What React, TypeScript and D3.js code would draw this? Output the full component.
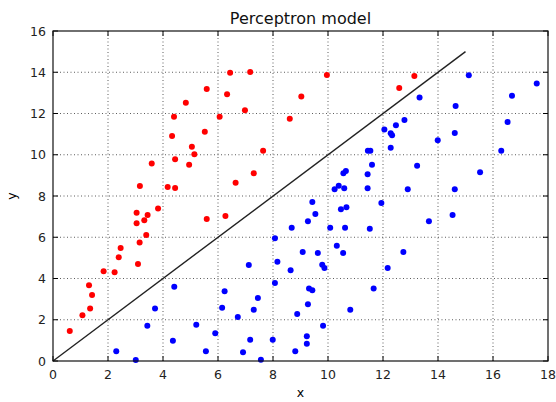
import React, { useRef, useEffect } from 'react';
import * as d3 from 'd3';

// class +1 (red) and class -1 (blue) samples, [x, y]
const redPoints: [number, number][] = [
  [6.44, 13.98], [5.59, 13.19], [6.33, 12.93], [4.83, 12.52], [4.40, 11.84],
  [6.06, 11.84], [5.52, 11.12], [4.33, 10.91], [5.05, 10.39], [5.14, 10.02],
  [3.59, 9.57], [4.44, 9.78], [4.95, 9.52], [3.16, 8.48], [4.17, 8.44],
  [4.44, 8.39], [6.64, 8.64], [7.17, 14.01], [9.96, 13.87], [13.14, 13.82],
  [9.03, 12.83], [12.59, 13.24], [6.98, 12.16], [8.61, 11.75], [7.64, 10.20],
  [7.30, 9.10], [3.82, 7.40], [3.04, 7.19], [3.44, 7.08], [3.32, 6.82],
  [3.04, 6.68], [5.59, 6.88], [6.27, 7.03], [3.39, 6.11], [3.15, 5.74],
  [2.46, 5.48], [2.39, 5.03], [1.84, 4.35], [2.24, 4.30], [3.09, 4.70],
  [1.31, 3.67], [1.42, 3.20], [1.35, 2.54], [1.07, 2.22], [0.61, 1.45],
];

const bluePoints: [number, number][] = [
  [13.33, 12.78], [12.78, 11.68], [12.47, 11.43], [12.05, 11.23], [12.28, 11.04],
  [12.33, 10.94], [12.28, 10.34], [11.45, 10.20], [11.54, 10.20], [11.60, 9.52],
  [13.24, 9.47], [10.65, 9.21], [10.56, 9.10], [11.44, 9.05], [10.39, 8.50],
  [10.24, 8.33], [10.59, 8.37], [11.44, 8.37], [12.90, 8.33], [15.12, 13.85],
  [17.59, 13.45], [16.69, 12.86], [14.64, 12.36], [16.53, 11.59], [14.61, 11.05],
  [13.99, 10.70], [16.30, 10.20], [15.53, 9.15], [14.61, 8.33], [9.43, 7.71],
  [9.54, 7.13], [9.27, 6.77], [8.68, 6.46], [10.47, 7.36], [10.67, 7.45],
  [11.94, 7.66], [10.08, 6.46], [10.62, 6.46], [11.52, 6.41], [8.07, 5.95],
  [10.32, 5.59], [10.55, 5.24], [9.08, 5.28], [9.63, 5.24], [12.74, 5.28],
  [8.16, 4.81], [7.12, 4.65], [8.64, 4.40], [9.79, 4.67], [9.87, 4.51],
  [12.17, 4.51], [8.07, 3.78], [9.31, 3.52], [9.43, 3.43], [11.66, 3.51],
  [6.24, 3.38], [7.45, 3.05], [6.15, 2.58], [7.30, 2.49], [9.27, 2.75],
  [6.72, 2.13], [8.88, 2.28], [10.81, 2.49], [9.82, 1.71], [7.17, 1.03],
  [7.99, 1.03], [9.23, 1.20], [9.23, 0.84], [6.91, 0.42], [8.81, 0.47],
  [7.56, 0.06], [4.41, 3.60], [3.71, 2.54], [3.43, 1.71], [2.30, 0.47],
  [3.01, 0.05], [4.36, 0.98], [5.21, 1.76], [5.90, 1.34], [5.56, 0.47],
  [13.67, 6.77], [14.53, 7.08],
];

// separating line found by the perceptron
const boundary: [number, number][] = [[0, 0], [15, 15]];

const xTicks = [0, 2, 4, 6, 8, 10, 12, 14, 16, 18];
const yTicks = [0, 2, 4, 6, 8, 10, 12, 14, 16];

const width = 556;
const height = 402;
const margin = { top: 31, right: 8, bottom: 41, left: 53 };

export default function App() {
  const ref = useRef<SVGSVGElement>(null);

  useEffect(() => {
    const svg = d3.select(ref.current);
    svg.selectAll('*').remove();

    const x = d3.scaleLinear().domain([0, 18]).range([margin.left, width - margin.right]);
    const y = d3.scaleLinear().domain([0, 16]).range([height - margin.bottom, margin.top]);

    const font = 'DejaVu Sans, sans-serif';

    svg.append('rect')
      .attr('width', width).attr('height', height).attr('fill', '#fff');

    // grid
    const grid = svg.append('g')
      .attr('stroke', '#333')
      .attr('stroke-width', 0.8)
      .attr('stroke-dasharray', '1,2.5');
    grid.selectAll('.gx')
      .data(xTicks.slice(1, -1))
      .join('line')
        .attr('x1', d => x(d)).attr('x2', d => x(d))
        .attr('y1', y(0)).attr('y2', y(16));
    grid.selectAll('.gy')
      .data(yTicks.slice(1, -1))
      .join('line')
        .attr('class', 'gy')
        .attr('x1', x(0)).attr('x2', x(18))
        .attr('y1', d => y(d)).attr('y2', d => y(d));

    // data
    svg.append('g')
      .selectAll('circle')
      .data(redPoints)
      .join('circle')
        .attr('cx', d => x(d[0]))
        .attr('cy', d => y(d[1]))
        .attr('r', 3)
        .attr('fill', '#ff0000');

    svg.append('g')
      .selectAll('circle')
      .data(bluePoints)
      .join('circle')
        .attr('cx', d => x(d[0]))
        .attr('cy', d => y(d[1]))
        .attr('r', 3)
        .attr('fill', '#0000ff');

    const line = d3.line<[number, number]>().x(d => x(d[0])).y(d => y(d[1]));
    svg.append('path')
      .attr('d', line(boundary))
      .attr('fill', 'none')
      .attr('stroke', '#222')
      .attr('stroke-width', 1.4);

    // inward ticks on all four sides
    const ticks = svg.append('g').attr('stroke', '#000').attr('stroke-width', 1);
    xTicks.forEach(t => {
      ticks.append('line').attr('x1', x(t)).attr('x2', x(t)).attr('y1', y(0)).attr('y2', y(0) - 5);
      ticks.append('line').attr('x1', x(t)).attr('x2', x(t)).attr('y1', y(16)).attr('y2', y(16) + 5);
    });
    yTicks.forEach(t => {
      ticks.append('line').attr('x1', x(0)).attr('x2', x(0) + 5).attr('y1', y(t)).attr('y2', y(t));
      ticks.append('line').attr('x1', x(18)).attr('x2', x(18) - 5).attr('y1', y(t)).attr('y2', y(t));
    });

    svg.append('rect')
      .attr('x', x(0)).attr('y', y(16))
      .attr('width', x(18) - x(0)).attr('height', y(0) - y(16))
      .attr('fill', 'none')
      .attr('stroke', '#111')
      .attr('stroke-width', 1.2);

    // tick labels
    svg.append('g')
      .selectAll('text')
      .data(xTicks)
      .join('text')
        .attr('x', d => x(d))
        .attr('y', y(0) + 18)
        .attr('text-anchor', 'middle')
        .attr('font-family', font)
        .attr('font-size', 12.5)
        .attr('fill', '#222')
        .text(d => d);

    svg.append('g')
      .selectAll('text')
      .data(yTicks)
      .join('text')
        .attr('x', x(0) - 7)
        .attr('y', d => y(d) + 4.5)
        .attr('text-anchor', 'end')
        .attr('font-family', font)
        .attr('font-size', 12.5)
        .attr('fill', '#222')
        .text(d => d);

    svg.append('text')
      .attr('x', (x(0) + x(18)) / 2)
      .attr('y', 397)
      .attr('text-anchor', 'middle')
      .attr('font-family', font)
      .attr('font-size', 12.5)
      .text('x');

    svg.append('text')
      .attr('transform', `translate(16,${(y(0) + y(16)) / 2}) rotate(-90)`)
      .attr('text-anchor', 'middle')
      .attr('font-family', font)
      .attr('font-size', 12.5)
      .text('y');

    svg.append('text')
      .attr('x', (x(0) + x(18)) / 2)
      .attr('y', 24)
      .attr('text-anchor', 'middle')
      .attr('font-family', font)
      .attr('font-size', 16)
      .attr('fill', '#111')
      .text('Perceptron model');
  }, []);

  return (
    <svg ref={ref} width={width} height={height} style={{ position: 'absolute', left: 0, top: 0 }} />
  );
}
